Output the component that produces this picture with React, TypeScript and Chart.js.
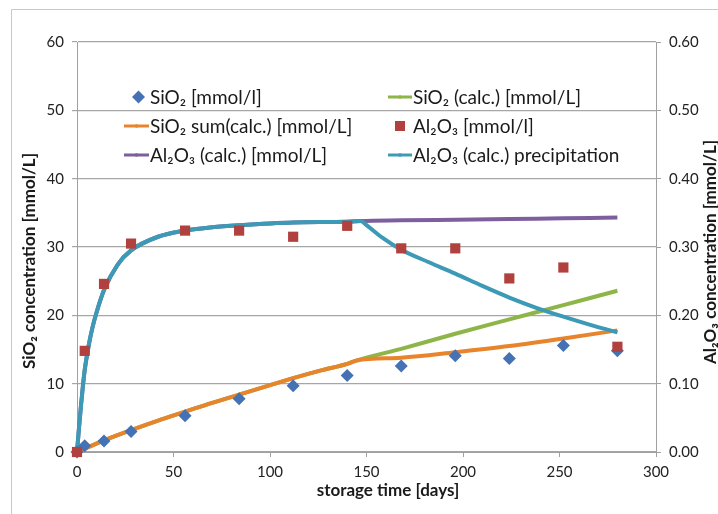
import React, { useEffect, useRef } from 'react';
import { Chart, registerables } from 'chart.js';

Chart.register(...registerables);

// ---- data ----
const measuredDays = [0, 4, 14, 28, 56, 84, 112, 140, 168, 196, 224, 252, 280];
const sio2Measured = [0, 0.9, 1.6, 3.0, 5.3, 7.8, 9.7, 11.2, 12.6, 14.1, 13.7, 15.6, 14.8];
const al2o3Measured = [0, 0.148, 0.246, 0.305, 0.324, 0.324, 0.315, 0.331, 0.298, 0.298, 0.254, 0.27, 0.154];

const sio2CalcDays = [0, 4, 14, 28, 42, 56, 70, 84, 98, 112, 126, 140, 145, 168, 196, 224, 252, 280];
const sio2Calc = [0, 0.5, 1.7, 3.2, 4.6, 5.9, 7.2, 8.4, 9.6, 10.8, 11.9, 12.9, 13.4, 15.1, 17.3, 19.4, 21.5, 23.6];

const sio2SumDays = [0, 4, 14, 28, 42, 56, 70, 84, 98, 112, 126, 140, 145, 168, 196, 224, 252, 280];
const sio2SumCalc = [0, 0.5, 1.7, 3.2, 4.6, 5.9, 7.2, 8.4, 9.6, 10.8, 11.9, 12.9, 13.4, 13.8, 14.6, 15.5, 16.6, 17.8];

const al2o3CalcDays = [0, 1, 2, 3, 4, 6, 8, 10, 14, 21, 28, 42, 56, 70, 84, 112, 140, 147, 168, 196, 224, 252, 280];
const al2o3Calc = [0, 0.034, 0.066, 0.095, 0.12, 0.155, 0.182, 0.203, 0.237, 0.274, 0.295, 0.315, 0.324, 0.329, 0.332, 0.336, 0.337, 0.338, 0.339, 0.34, 0.341, 0.342, 0.343];

const al2o3PrecipDays = [0, 1, 2, 3, 4, 6, 8, 10, 14, 21, 28, 42, 56, 70, 84, 112, 140, 147, 150, 158, 168, 182, 196, 210, 224, 238, 252, 266, 280];
const al2o3Precip = [0, 0.034, 0.066, 0.095, 0.12, 0.155, 0.182, 0.203, 0.237, 0.274, 0.295, 0.315, 0.324, 0.329, 0.332, 0.336, 0.337, 0.338, 0.332, 0.314, 0.296, 0.278, 0.261, 0.243, 0.226, 0.211, 0.198, 0.186, 0.175];

const seriesLabels = [
  'SiO₂ [mmol/l]',
  'SiO₂ (calc.) [mmol/L]',
  'SiO₂ sum(calc.) [mmol/L]',
  'Al₂O₃ [mmol/l]',
  'Al₂O₃ (calc.) [mmol/L]',
  'Al₂O₃ (calc.) precipitation',
];
const seriesColors = ['#4472B4', '#8EB548', '#E8842C', '#B0413E', '#7E5F9E', '#3C9AB6'];

const xTitle = 'storage time [days]';
const yLeftTitle = 'SiO₂ concentration [mmol/L]';
const yRightTitle = 'Al₂O₃ concentration [mmol/L]';

const FONT = "Lato, 'DejaVu Sans', sans-serif";

const toPoints = (xs: number[], ys: number[]) => xs.map((x, i) => ({ x, y: ys[i] }));

const framePlugin = {
  id: 'frame',
  beforeDraw(chart: any) {
    const ctx = chart.ctx;
    ctx.save();
    ctx.fillStyle = '#ffffff';
    ctx.fillRect(0, 0, chart.width, chart.height);
    ctx.strokeStyle = '#C8C8C8';
    ctx.lineWidth = 1;
    ctx.beginPath();
    ctx.moveTo(11.5, chart.height + 2);
    ctx.lineTo(11.5, 9.5);
    ctx.lineTo(chart.width + 2, 9.5);
    ctx.stroke();
    ctx.restore();
  },
};

const overlayPlugin = {
  id: 'overlay',
  afterDraw(chart: any) {
    const ctx = chart.ctx;
    ctx.save();
    // axis titles
    ctx.fillStyle = '#1a1a1a';
    ctx.font = `bold 17px ${FONT}`;
    ctx.textAlign = 'center';
    ctx.textBaseline = 'middle';
    ctx.fillText(xTitle, 388, 491);

    ctx.save();
    ctx.translate(30, 261);
    ctx.rotate(-Math.PI / 2);
    ctx.fillText(yLeftTitle, 0, 0);
    ctx.restore();

    ctx.save();
    ctx.translate(711, 252);
    ctx.rotate(-Math.PI / 2);
    ctx.fillText(yRightTitle, 0, 0);
    ctx.restore();

    // legend (2 columns x 3 rows)
    const colLine = [[124, 149], [388, 412]];
    const colText = [150, 413];
    const rowY = [97, 126, 155];
    ctx.font = `19px ${FONT}`;
    ctx.textAlign = 'left';
    chart.data.datasets.forEach((ds: any, i: number) => {
      const col = i % 2;
      const row = Math.floor(i / 2);
      const y = rowY[row];
      const [x0, x1] = colLine[col];
      const cx = (x0 + x1) / 2;
      ctx.fillStyle = ds.backgroundColor;
      ctx.strokeStyle = ds.borderColor;
      if (ds.showLine) {
        ctx.lineWidth = 3;
        ctx.beginPath();
        ctx.moveTo(x0, y);
        ctx.lineTo(x1, y);
        ctx.stroke();
        ctx.beginPath();
        ctx.arc(cx, y, 1.8, 0, Math.PI * 2);
        ctx.fill();
      } else if (ds.pointStyle === 'rectRot') {
        const r = 6.5;
        const dx = cx + 2;
        ctx.beginPath();
        ctx.moveTo(dx, y - r);
        ctx.lineTo(dx + r, y);
        ctx.lineTo(dx, y + r);
        ctx.lineTo(dx - r, y);
        ctx.closePath();
        ctx.fill();
      } else {
        const s = 5;
        ctx.fillRect(cx - s, y - s, 2 * s, 2 * s);
      }
      ctx.fillStyle = '#1a1a1a';
      ctx.fillText(ds.label, colText[col], y + 1);
    });
    ctx.restore();
  },
};

export default function App() {
  const canvasRef = useRef<HTMLCanvasElement | null>(null);

  useEffect(() => {
    const canvas = canvasRef.current;
    if (!canvas) return;
    const lineDs = (idx: number, xs: number[], ys: number[], axis: string, order: number) => ({
      label: seriesLabels[idx],
      data: toPoints(xs, ys),
      yAxisID: axis,
      showLine: true,
      borderColor: seriesColors[idx],
      backgroundColor: seriesColors[idx],
      borderWidth: 4,
      pointRadius: 0,
      cubicInterpolationMode: 'monotone',
      clip: false,
      order,
    });
    const chart = new Chart(canvas, {
      type: 'scatter',
      data: {
        datasets: [
          {
            label: seriesLabels[0],
            data: toPoints(measuredDays, sio2Measured),
            yAxisID: 'y',
            showLine: false,
            pointStyle: 'rectRot',
            pointRadius: 6.5,
            borderWidth: 0,
            backgroundColor: seriesColors[0],
            borderColor: seriesColors[0],
            clip: false,
            order: 1,
          },
          lineDs(1, sio2CalcDays, sio2Calc, 'y', 5),
          lineDs(2, sio2SumDays, sio2SumCalc, 'y', 4),
          {
            label: seriesLabels[3],
            data: toPoints(measuredDays, al2o3Measured),
            yAxisID: 'y1',
            showLine: false,
            pointStyle: 'rect',
            pointRadius: 7.2,
            borderWidth: 0,
            backgroundColor: seriesColors[3],
            borderColor: seriesColors[3],
            clip: false,
            order: 0,
          },
          lineDs(4, al2o3CalcDays, al2o3Calc, 'y1', 3),
          lineDs(5, al2o3PrecipDays, al2o3Precip, 'y1', 2),
        ] as any,
      },
      options: {
        responsive: false,
        animation: false,
        layout: { padding: { top: 42, left: 0, right: 0, bottom: 0 } },
        plugins: {
          legend: { display: false },
          tooltip: { enabled: false },
          title: { display: false },
        },
        scales: {
          x: {
            type: 'linear',
            min: 0,
            max: 300,
            ticks: { stepSize: 50, color: '#222', font: { family: FONT, size: 15 }, padding: 6 },
            grid: { drawOnChartArea: false, drawTicks: true, tickLength: 5, color: '#A0A0A0' },
            border: { display: true, color: '#A0A0A0', width: 1 },
            afterFit: (s: any) => { s.height = 62; },
          },
          y: {
            type: 'linear',
            position: 'left',
            min: 0,
            max: 60,
            ticks: { stepSize: 10, color: '#222', font: { family: FONT, size: 15 }, padding: 8 },
            grid: { color: '#A6A6A6', lineWidth: 1.2, tickLength: 5 },
            border: { display: true, color: '#A0A0A0', width: 1 },
            afterFit: (s: any) => { s.width = 77; },
          },
          y1: {
            type: 'linear',
            position: 'right',
            min: 0,
            max: 0.6,
            ticks: {
              stepSize: 0.1,
              color: '#222',
              font: { family: FONT, size: 15 },
              padding: 8,
              callback: (v: any) => Number(v).toFixed(2),
            },
            grid: { drawOnChartArea: false, tickLength: 5, color: '#A0A0A0' },
            border: { display: true, color: '#A0A0A0', width: 1 },
            afterFit: (s: any) => { s.width = 62; },
          },
        },
      } as any,
      plugins: [framePlugin, overlayPlugin],
    });
    return () => chart.destroy();
  }, []);

  return (
    <div style={{ position: 'absolute', left: 0, top: 0, width: 718, height: 514 }}>
      <canvas ref={canvasRef} width={718} height={514} style={{ width: 718, height: 514, display: 'block' }} />
    </div>
  );
}
